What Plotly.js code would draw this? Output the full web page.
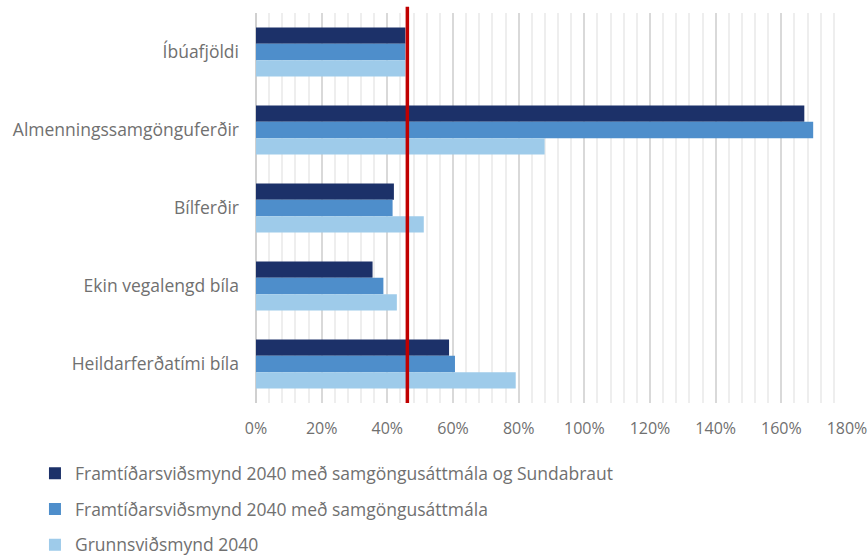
<!DOCTYPE html>
<html>
<head>
<meta charset="utf-8">
<script src="https://cdn.plot.ly/plotly-3.0.1.min.js"></script>
<style>html,body{margin:0;padding:0;background:#fff;}#chart{width:868px;height:559px;}</style>
</head>
<body>
<div id="chart"></div>
<script>
const categories = ["Íbúafjöldi", "Almenningssamgönguferðir", "Bílferðir", "Ekin vegalengd bíla", "Heildarferðatími bíla"];
const seriesNames = [
  "Framtíðarsviðsmynd 2040 með samgöngusáttmála og Sundabraut",
  "Framtíðarsviðsmynd 2040 með samgöngusáttmála",
  "Grunnsviðsmynd 2040"
];
const sundabraut = [0.455, 1.67, 0.42, 0.355, 0.588];
const samgongusattmali = [0.455, 1.697, 0.416, 0.388, 0.606];
const grunn = [0.455, 0.879, 0.511, 0.429, 0.791];
const referenceValue = 0.461;
const xTickVals = [0, 0.2, 0.4, 0.6, 0.8, 1.0, 1.2, 1.4, 1.6, 1.8];
const xTickText = ["0%", "20%", "40%", "60%", "80%", "100%", "120%", "140%", "160%", "180%"];
const colors = ["#1c3169", "#4e8ecb", "#9ecbea"];

const seriesValues = [sundabraut, samgongusattmali, grunn];
const FONT = "Open Sans, Noto Sans, sans-serif";
const traces = seriesValues.map((vals, i) => ({
  type: "bar",
  orientation: "h",
  name: seriesNames[i],
  x: vals,
  y: categories,
  legendgroup: "g" + i,
  marker: { color: colors[i] },
  hoverinfo: "x+name"
}));

const layout = {
  width: 868,
  height: 559,
  margin: { l: 256, r: 21, t: 13, b: 156, autoexpand: false },
  paper_bgcolor: "#fff",
  plot_bgcolor: "#fff",
  font: { family: FONT, size: 16, color: "#707070" },
  barmode: "group",
  bargap: 0.37,
  bargroupgap: 0,
  showlegend: true,
  legend: {
    orientation: "v",
    x: -0.374,
    xanchor: "left",
    y: -0.134,
    yanchor: "top",
    traceorder: "grouped",
    tracegroupgap: 10,
    font: { family: FONT, size: 17.5, color: "#707070" },
    itemwidth: 30
  },
  xaxis: {
    range: [0, 1.8],
    tickvals: xTickVals,
    ticktext: xTickText,
    tickangle: 0,
    showgrid: true,
    gridcolor: "#d9d9d9",
    gridwidth: 2,
    minor: { dtick: 0.04, showgrid: true, gridcolor: "#eeeeee", gridwidth: 1.5 },
    zeroline: true,
    zerolinecolor: "#d0d0d0",
    zerolinewidth: 2,
    ticks: "",
    ticklabelstandoff: 14,
    tickfont: { family: FONT, size: 16, color: "#707070" },
    fixedrange: true
  },
  yaxis: {
    autorange: "reversed",
    type: "category",
    ticks: "",
    ticklabelstandoff: 16,
    showgrid: false,
    tickfont: { family: FONT, size: 17.5, color: "#707070" },
    fixedrange: true
  },
  shapes: [{
    type: "line",
    xref: "x",
    yref: "paper",
    x0: referenceValue,
    x1: referenceValue,
    y0: 0,
    y1: 1.016,
    line: { color: "#c00000", width: 3.5 }
  }]
};

Plotly.newPlot("chart", traces, layout, { displayModeBar: false, staticPlot: false });
</script>
</body>
</html>
